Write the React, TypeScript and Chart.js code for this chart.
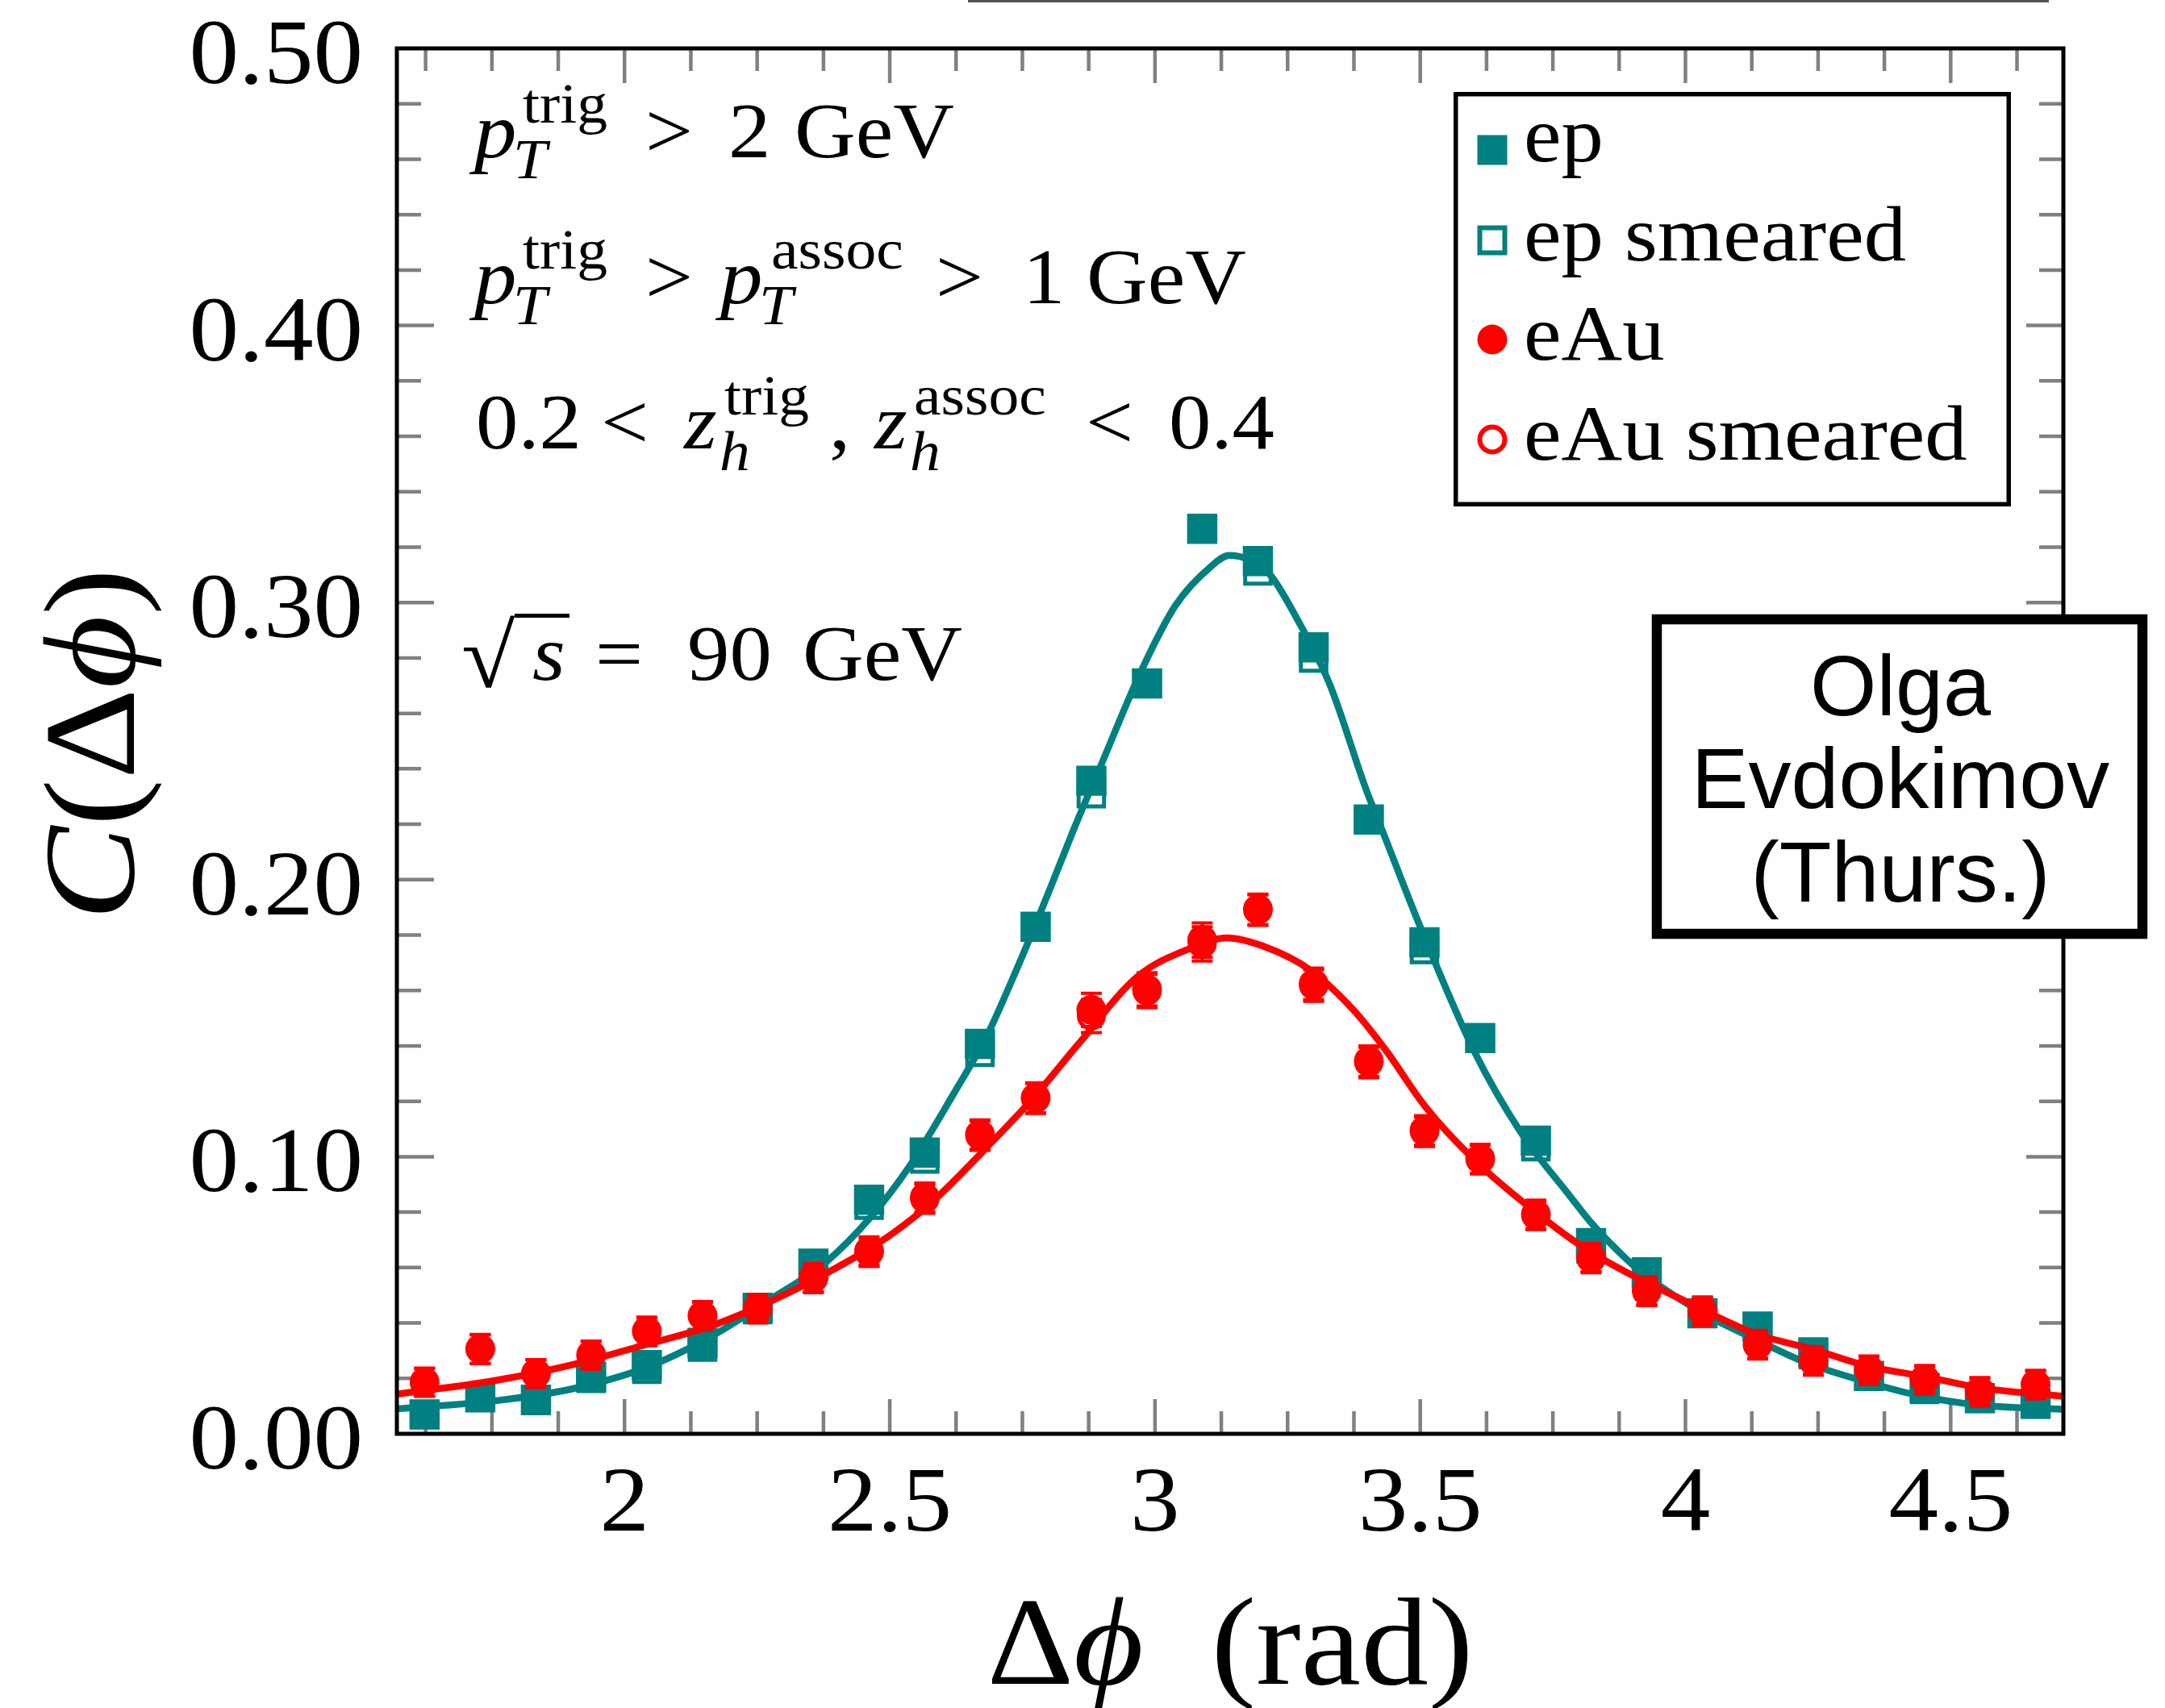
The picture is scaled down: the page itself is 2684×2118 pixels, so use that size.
import React, { useEffect, useRef } from 'react';
import { Chart, registerables } from 'chart.js';

Chart.register(...registerables);

const CANVAS_W = 2684;
const CANVAS_H = 2118;

const SERIF = '"Liberation Serif", "DejaVu Serif", serif';
const SANS = '"Liberation Sans", Arial, sans-serif';
const SERIF_STRETCH = 1.08;

const TEAL = '#008080';
const RED = '#ff0000';
const TICK_GREY = '#808080';

const X_MIN = Math.PI / 2;
const X_MAX = (3 * Math.PI) / 2;

// Δφ bin centres (30 bins of width π/30 between π/2 and 3π/2)
const deltaPhi = [
  1.623, 1.728, 1.833, 1.937, 2.042, 2.147, 2.251, 2.356, 2.461, 2.566,
  2.670, 2.775, 2.880, 2.985, 3.089, 3.194, 3.299, 3.403, 3.508, 3.613,
  3.718, 3.822, 3.927, 4.032, 4.136, 4.241, 4.346, 4.451, 4.555, 4.660,
];

const epValues = [
  0.0070, 0.0132, 0.0123, 0.0206, 0.0248, 0.0328, 0.0455, 0.0614, 0.0845, 0.1015,
  0.1407, 0.1830, 0.2357, 0.2708, 0.3266, 0.3150, 0.2838, 0.2217, 0.1774, 0.1428,
  0.1058, 0.0688, 0.0583, 0.0435, 0.0387, 0.0294, 0.0209, 0.0165, 0.0129, 0.0109,
];

const epSmearedValues = [
  0.0070, 0.0132, 0.0120, 0.0200, 0.0233, 0.0313, 0.0448, 0.0605, 0.0825, 0.0992,
  0.1377, 0.1830, 0.2310, 0.2708, 0.3266, 0.3114, 0.2800, 0.2217, 0.1748, 0.1428,
  0.1036, 0.0667, 0.0583, 0.0435, 0.0385, 0.0286, 0.0209, 0.0160, 0.0128, 0.0107,
];

const eAuValues = [
  0.0187, 0.0307, 0.0218, 0.0285, 0.0371, 0.0427, 0.0453, 0.0564, 0.0660, 0.0853,
  0.1080, 0.1213, 0.1530, 0.1604, 0.1782, 0.1893, 0.1624, 0.1345, 0.1095, 0.0993,
  0.0792, 0.0636, 0.0517, 0.0444, 0.0323, 0.0265, 0.0231, 0.0197, 0.0153, 0.0179,
];

const eAuErrors = [
  0.0050, 0.0052, 0.0050, 0.0050, 0.0050, 0.0050, 0.0050, 0.0051, 0.0051, 0.0052,
  0.0053, 0.0054, 0.0060, 0.0060, 0.0062, 0.0055, 0.0057, 0.0055, 0.0053, 0.0052,
  0.0051, 0.0051, 0.0050, 0.0050, 0.0050, 0.0050, 0.0050, 0.0050, 0.0050, 0.0050,
];

const eAuSmearedValues = [
  0.0185, 0.0305, 0.0216, 0.0283, 0.0368, 0.0425, 0.0450, 0.0560, 0.0655, 0.0848,
  0.1076, 0.1210, 0.1508, 0.1598, 0.1768, 0.1890, 0.1618, 0.1340, 0.1090, 0.0990,
  0.0788, 0.0632, 0.0513, 0.0441, 0.0320, 0.0262, 0.0228, 0.0194, 0.0150, 0.0176,
];

const eAuSmearedErrors = [
  0.0050, 0.0052, 0.0050, 0.0050, 0.0050, 0.0050, 0.0050, 0.0051, 0.0051, 0.0052,
  0.0053, 0.0054, 0.0060, 0.0060, 0.0062, 0.0055, 0.0057, 0.0055, 0.0053, 0.0052,
  0.0051, 0.0051, 0.0050, 0.0050, 0.0050, 0.0050, 0.0050, 0.0050, 0.0050, 0.0050,
];

// fitted curves, sampled along Δφ
const epFitPhi = [
  1.571, 1.755, 1.903, 2.042, 2.164, 2.277, 2.380, 2.464, 2.537, 2.620,
  2.685, 2.729, 2.772, 2.810, 2.853, 2.896, 2.971, 3.038, 3.106, 3.140,
  3.174, 3.215, 3.269, 3.330, 3.398, 3.428, 3.500, 3.602, 3.689, 3.781,
  3.823, 3.889, 3.922, 4.033, 4.131, 4.230, 4.342, 4.440, 4.552, 4.712,
];
const epFitValues = [
  0.0090, 0.0119, 0.0163, 0.0240, 0.0352, 0.0488, 0.0620, 0.0782, 0.0965, 0.1226,
  0.1444, 0.1631, 0.1825, 0.2005, 0.2210, 0.2403, 0.2741, 0.2988, 0.3131, 0.3170,
  0.3157, 0.3105, 0.2937, 0.2702, 0.2325, 0.2180, 0.1830, 0.1380, 0.1090, 0.0861,
  0.0760, 0.0630, 0.0575, 0.0435, 0.0342, 0.0255, 0.0187, 0.0138, 0.0104, 0.0088,
];

const eAuFitPhi = [
  1.571, 1.755, 1.903, 2.042, 2.164, 2.277, 2.381, 2.480, 2.550, 2.588,
  2.685, 2.772, 2.857, 2.967, 3.068, 3.136, 3.204, 3.291, 3.373, 3.433,
  3.510, 3.604, 3.705, 3.818, 4.021, 4.131, 4.242, 4.342, 4.453, 4.552, 4.712,
];
const eAuFitValues = [
  0.0143, 0.0192, 0.0250, 0.0323, 0.0390, 0.0480, 0.0580, 0.0690, 0.0788, 0.0851,
  0.1038, 0.1215, 0.1410, 0.1650, 0.1753, 0.1790, 0.1760, 0.1676, 0.1532, 0.1390,
  0.1180, 0.0985, 0.0819, 0.0660, 0.0459, 0.0362, 0.0304, 0.0245, 0.0206, 0.0167, 0.0135,
];

const xTickValues = [2, 2.5, 3, 3.5, 4, 4.5];
const xTickLabels = ['2', '2.5', '3', '3.5', '4', '4.5'];
const yTickValues = [0, 0.1, 0.2, 0.3, 0.4, 0.5];
const yTickLabels = ['0.00', '0.10', '0.20', '0.30', '0.40', '0.50'];

const legendLabels = ['ep', 'ep smeared', 'eAu', 'eAu smeared'];

type Align = 'left' | 'center' | 'right';

function fontOf(size: number, italic: boolean, family: string) {
  return `${italic ? 'italic ' : ''}${size}px ${family}`;
}

function drawText(
  ctx: CanvasRenderingContext2D,
  str: string,
  x: number,
  y: number,
  size: number,
  opts: { italic?: boolean; family?: string; align?: Align; stretch?: number; color?: string } = {}
) {
  const { italic = false, family = SERIF, align = 'left', stretch = family === SERIF ? SERIF_STRETCH : 1, color = '#000' } = opts;
  ctx.save();
  ctx.font = fontOf(size, italic, family);
  ctx.fillStyle = color;
  ctx.textAlign = 'left';
  ctx.textBaseline = 'alphabetic';
  const w = ctx.measureText(str).width * stretch;
  let x0 = x;
  if (align === 'center') x0 = x - w / 2;
  else if (align === 'right') x0 = x - w;
  ctx.translate(x0, y);
  ctx.scale(stretch, 1);
  ctx.fillText(str, 0, 0);
  ctx.restore();
  return w;
}

type Run = { t: string; italic?: boolean };

function drawRuns(ctx: CanvasRenderingContext2D, runs: Run[], x: number, y: number, size: number, align: Align) {
  const widths = runs.map((r) => {
    ctx.font = fontOf(size, !!r.italic, SERIF);
    return ctx.measureText(r.t).width * SERIF_STRETCH;
  });
  const total = widths.reduce((s, w) => s + w, 0);
  let cx = align === 'center' ? x - total / 2 : align === 'right' ? x - total : x;
  runs.forEach((r, i) => {
    drawText(ctx, r.t, cx, y, size, { italic: r.italic });
    cx += widths[i];
  });
}

// kinematic cuts written in the upper-left corner: [text, x, baseline, size, italic]
const cutGlyphs: [string, number, number, number, boolean][] = [
  ['p', 588, 195, 97, true], ['trig', 648, 152, 70, false], ['T', 636, 221, 70, true],
  ['>', 800, 195, 97, false], ['2', 903, 195, 97, false], ['GeV', 985, 195, 97, false],

  ['p', 588, 376, 97, true], ['trig', 648, 333, 70, false], ['T', 636, 402, 70, true],
  ['>', 800, 376, 97, false], ['p', 893, 376, 97, true], ['assoc', 956, 333, 70, false],
  ['T', 941, 402, 70, true], ['>', 1160, 376, 97, false], ['1', 1268, 376, 97, false],
  ['GeV', 1347, 376, 97, false],

  ['0.2', 590, 556, 97, false], ['<', 745, 556, 97, false], ['z', 848, 556, 97, true],
  ['trig', 898, 514, 70, false], ['h', 892, 583, 70, true], [',', 1028, 556, 97, false],
  ['z', 1084, 556, 97, true], ['assoc', 1133, 514, 70, false], ['h', 1128, 583, 70, true],
  ['<', 1346, 556, 97, false], ['0.4', 1449, 556, 97, false],

  ['s', 660, 843, 97, true], ['=', 738, 843, 97, false], ['90', 852, 843, 97, false],
  ['GeV', 995, 843, 97, false],
];

function drawMarker(ctx: CanvasRenderingContext2D, kind: string, cx: number, cy: number) {
  ctx.save();
  if (kind === 'rectFilled') {
    ctx.fillStyle = TEAL;
    ctx.fillRect(cx - 18.5, cy - 18.5, 37, 37);
  } else if (kind === 'rectOpen') {
    ctx.strokeStyle = TEAL;
    ctx.lineWidth = 6;
    ctx.strokeRect(cx - 15.5, cy - 15.5, 31, 31);
  } else if (kind === 'circleFilled') {
    ctx.fillStyle = RED;
    ctx.beginPath();
    ctx.arc(cx, cy, 18.5, 0, Math.PI * 2);
    ctx.fill();
  } else {
    ctx.strokeStyle = RED;
    ctx.lineWidth = 6;
    ctx.beginPath();
    ctx.arc(cx, cy, 15.5, 0, Math.PI * 2);
    ctx.stroke();
  }
  ctx.restore();
}

const decorPlugin = {
  id: 'decor',
  beforeDatasetsDraw(chart: any) {
    const { ctx, chartArea: a, scales } = chart;
    const x = scales.x;
    const y = scales.y;
    ctx.save();
    ctx.strokeStyle = TICK_GREY;
    ctx.lineWidth = 4.5;
    ctx.beginPath();
    for (let v = Math.ceil(X_MIN / 0.125) * 0.125; v <= X_MAX + 1e-9; v += 0.125) {
      const major = Math.abs(v * 2 - Math.round(v * 2)) < 1e-6;
      const len = major ? 43 : 28;
      const px = x.getPixelForValue(v);
      ctx.moveTo(px, a.bottom);
      ctx.lineTo(px, a.bottom - len);
      ctx.moveTo(px, a.top);
      ctx.lineTo(px, a.top + len);
    }
    for (let i = 1; i < 25; i++) {
      const major = i % 5 === 0;
      const len = major ? 46 : 30;
      const py = y.getPixelForValue(i * 0.02);
      ctx.moveTo(a.left, py);
      ctx.lineTo(a.left + len, py);
      ctx.moveTo(a.right, py);
      ctx.lineTo(a.right - len, py);
    }
    ctx.stroke();
    ctx.restore();
  },
  afterDatasetDraw(chart: any, args: any) {
    const ds = chart.data.datasets[args.index];
    if (!ds.errors) return;
    const { ctx } = chart;
    const y = chart.scales.y;
    ctx.save();
    ctx.strokeStyle = ds.borderColor;
    ctx.lineWidth = 4;
    ctx.beginPath();
    args.meta.data.forEach((pt: any, i: number) => {
      const v = ds.data[i].y;
      const e = ds.errors[i];
      const top = y.getPixelForValue(v + e);
      const bot = y.getPixelForValue(v - e);
      ctx.moveTo(pt.x, top);
      ctx.lineTo(pt.x, bot);
      ctx.moveTo(pt.x - 13, top);
      ctx.lineTo(pt.x + 13, top);
      ctx.moveTo(pt.x - 13, bot);
      ctx.lineTo(pt.x + 13, bot);
    });
    ctx.stroke();
    ctx.restore();
  },
  afterDatasetsDraw(chart: any) {
    const { ctx, chartArea: a } = chart;
    ctx.save();
    ctx.strokeStyle = '#000';
    ctx.lineWidth = 5;
    ctx.strokeRect(a.left, a.top, a.right - a.left, a.bottom - a.top);
    ctx.restore();
  },
  afterDraw(chart: any) {
    const { ctx, scales } = chart;
    const x = scales.x;
    const y = scales.y;

    // rule along the upper edge
    ctx.save();
    ctx.fillStyle = '#555';
    ctx.fillRect(1200, 0, 1340, 3);
    ctx.restore();

    // tick labels
    yTickValues.forEach((v, i) => {
      drawText(ctx, yTickLabels[i], 450, y.getPixelForValue(v) + 43, 114, { align: 'right' });
    });
    xTickValues.forEach((v, i) => {
      drawText(ctx, xTickLabels[i], x.getPixelForValue(v), 1898, 114, { align: 'center' });
    });

    // axis titles
    drawRuns(ctx, [{ t: 'Δ' }, { t: 'ϕ', italic: true }, { t: '  (rad)' }], (chart.chartArea.left + chart.chartArea.right) / 2, 2088, 155, 'center');
    ctx.save();
    ctx.translate(166, (chart.chartArea.top + chart.chartArea.bottom) / 2 + 4);
    ctx.rotate(-Math.PI / 2);
    drawRuns(ctx, [{ t: 'C', italic: true }, { t: '(Δ' }, { t: 'ϕ', italic: true }, { t: ')' }], 0, 0, 162, 'center');
    ctx.restore();

    // cut annotations
    cutGlyphs.forEach(([t, gx, gy, size, italic]) => drawText(ctx, t, gx, gy, size, { italic }));
    drawText(ctx, '√', 572, 852, 112, {});
    ctx.save();
    ctx.fillStyle = '#000';
    ctx.fillRect(638, 761, 68, 5);
    ctx.restore();

    // legend
    ctx.save();
    ctx.fillStyle = '#fff';
    ctx.fillRect(1802, 114, 691, 514);
    ctx.strokeStyle = '#000';
    ctx.lineWidth = 5.5;
    ctx.strokeRect(1804.75, 116.75, 685.5, 508.5);
    ctx.restore();
    const legendMarkers = ['rectFilled', 'rectOpen', 'circleFilled', 'circleOpen'];
    const markerY = [186, 298, 421, 545];
    const textY = [200, 323, 446, 570];
    legendLabels.forEach((label, i) => {
      drawMarker(ctx, legendMarkers[i], 1850, markerY[i]);
      drawText(ctx, label, 1889, textY[i], 97);
    });

    // speaker box
    ctx.save();
    ctx.fillStyle = '#fff';
    ctx.fillRect(2048, 762, 614, 402);
    ctx.strokeStyle = '#000';
    ctx.lineWidth = 12.5;
    ctx.strokeRect(2054, 768, 602, 390);
    ctx.restore();
    drawText(ctx, 'Olga', 2356, 887, 106, { family: SANS, align: 'center' });
    drawText(ctx, 'Evdokimov', 2356, 1002, 106, { family: SANS, align: 'center' });
    drawText(ctx, '(Thurs.)', 2356, 1118, 106, { family: SANS, align: 'center' });
  },
};

function points(xs: number[], ys: number[]) {
  return xs.map((v, i) => ({ x: v, y: ys[i] }));
}

export default function App() {
  const canvasRef = useRef<HTMLCanvasElement | null>(null);

  useEffect(() => {
    document.body.style.margin = '0';
    const canvas = canvasRef.current;
    if (!canvas) return;

    const chart = new Chart(canvas, {
      type: 'scatter',
      data: {
        datasets: [
          {
            label: 'eAu fit',
            data: points(eAuFitPhi, eAuFitValues),
            showLine: true,
            borderColor: RED,
            borderWidth: 8.5,
            pointRadius: 0,
            cubicInterpolationMode: 'monotone',
            order: 1,
          } as any,
          {
            label: legendLabels[2],
            data: points(deltaPhi, eAuValues),
            errors: eAuErrors,
            pointStyle: 'circle',
            pointRadius: 18.5,
            pointBorderWidth: 0,
            backgroundColor: RED,
            borderColor: RED,
            order: 2,
          },
          {
            label: legendLabels[3],
            data: points(deltaPhi, eAuSmearedValues),
            errors: eAuSmearedErrors,
            pointStyle: 'circle',
            pointRadius: 15.5,
            pointBorderWidth: 5,
            backgroundColor: 'rgba(0,0,0,0)',
            borderColor: RED,
            order: 3,
          },
          {
            label: 'ep fit',
            data: points(epFitPhi, epFitValues),
            showLine: true,
            borderColor: TEAL,
            borderWidth: 8.5,
            pointRadius: 0,
            cubicInterpolationMode: 'monotone',
            order: 4,
          },
          {
            label: legendLabels[0],
            data: points(deltaPhi, epValues),
            pointStyle: 'rect',
            pointRadius: 26.5,
            pointBorderWidth: 0,
            backgroundColor: TEAL,
            borderColor: TEAL,
            order: 5,
          },
          {
            label: legendLabels[1],
            data: points(deltaPhi, epSmearedValues),
            pointStyle: 'rect',
            pointRadius: 22.3,
            pointBorderWidth: 5,
            backgroundColor: 'rgba(0,0,0,0)',
            borderColor: TEAL,
            order: 6,
          },
        ] as any,
      },
      options: {
        animation: false,
        responsive: false,
        devicePixelRatio: 1,
        layout: { padding: { top: 60, right: 126, left: 0, bottom: 0 } },
        scales: {
          x: {
            type: 'linear',
            min: X_MIN,
            max: X_MAX,
            grid: { display: false },
            border: { display: false },
            ticks: { display: false },
            afterBuildTicks: (s: any) => {
              s.ticks = xTickValues.map((v) => ({ value: v }));
            },
            afterFit: (s: any) => {
              s.height = 340;
            },
          },
          y: {
            type: 'linear',
            min: 0,
            max: 0.5,
            grid: { display: false },
            border: { display: false },
            ticks: { display: false },
            afterBuildTicks: (s: any) => {
              s.ticks = yTickValues.map((v) => ({ value: v }));
            },
            afterFit: (s: any) => {
              s.width = 492;
            },
          },
        },
        plugins: {
          legend: { display: false },
          tooltip: { enabled: false },
        },
      } as any,
      plugins: [decorPlugin],
    });

    return () => chart.destroy();
  }, []);

  return (
    <div style={{ width: CANVAS_W, height: CANVAS_H, background: '#fff' }}>
      <canvas ref={canvasRef} width={CANVAS_W} height={CANVAS_H} style={{ display: 'block' }} />
    </div>
  );
}
